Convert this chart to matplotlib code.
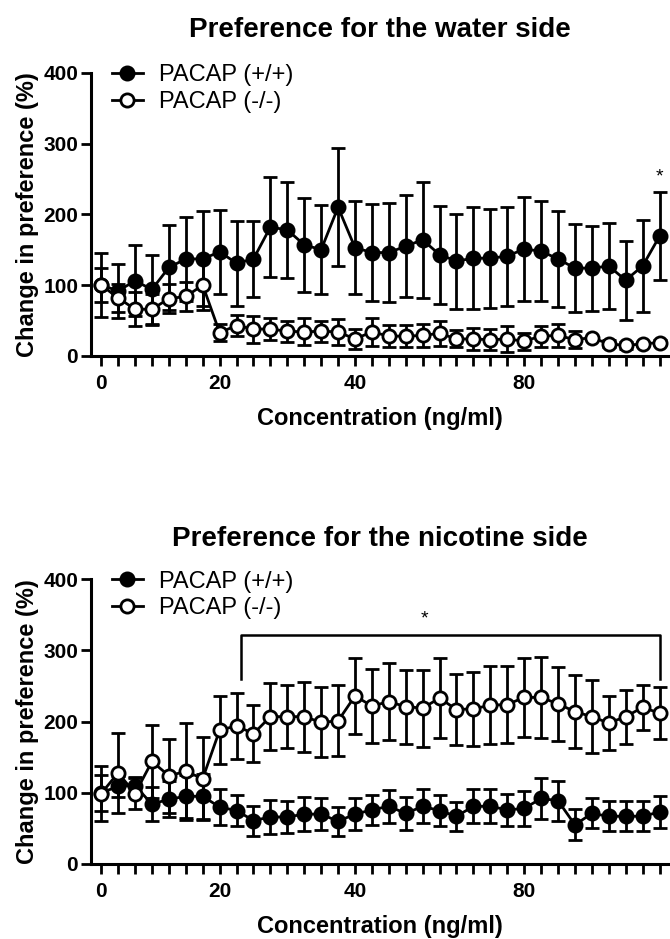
import matplotlib
matplotlib.use("Agg")
import matplotlib.pyplot as plt
from matplotlib.lines import Line2D

# sample index along the x axis (34 concentrations)
n_points = 34
x_tick_pos = [0, 7, 15, 25]
x_tick_labels = ['0', '20', '40', '80']

# water side, mean and SEM
wt_water = [100, 92, 106, 94, 125, 137, 137, 147, 131, 137, 182, 178, 157, 150, 210, 153, 146,
            146, 155, 164, 143, 134, 138, 138, 141, 151, 148, 137, 124, 124, 127, 107, 127, 169]
wt_water_err = [45, 38, 50, 49, 60, 59, 67, 59, 60, 54, 70, 68, 66, 63, 83, 66, 69,
                70, 72, 82, 69, 67, 72, 70, 70, 73, 71, 68, 62, 60, 61, 56, 65, 62]
ko_water = [100, 82, 66, 66, 81, 84, 100, 33, 43, 38, 38, 35, 34, 35, 34, 24, 34,
            28, 28, 29, 32, 24, 24, 23, 24, 21, 28, 29, 23, 26, 17, 15, 17, 19]
ko_water_err = [24, 20, 24, 22, 20, 20, 35, 12, 15, 19, 16, 15, 19, 15, 18, 14, 20,
                16, 16, 16, 18, 12, 15, 15, 18, 12, 15, 16, 12, 0, 5, 5, 3, 3]

# nicotine side, mean and SEM
wt_nic = [100, 109, 110, 84, 91, 95, 95, 80, 75, 61, 66, 66, 70, 70, 60, 70, 76,
          81, 71, 81, 75, 67, 81, 81, 76, 78, 92, 89, 55, 71, 67, 67, 67, 73]
wt_nic_err = [25, 15, 12, 24, 25, 30, 32, 25, 22, 21, 24, 23, 24, 22, 20, 22, 21,
              23, 23, 24, 22, 20, 24, 24, 23, 25, 29, 28, 22, 21, 21, 21, 21, 22]
ko_nic = [99, 128, 99, 144, 124, 130, 120, 188, 194, 183, 207, 207, 207, 199, 201, 236, 222,
          228, 221, 219, 233, 217, 218, 223, 224, 234, 234, 225, 214, 207, 198, 207, 220, 212]
ko_nic_err = [39, 56, 22, 51, 52, 68, 58, 48, 46, 40, 47, 44, 49, 49, 50, 54, 52,
              54, 52, 54, 56, 50, 52, 55, 54, 55, 57, 52, 51, 51, 38, 38, 32, 37]

# significance marks
water_star = (33, 253)
nic_bracket = (8.25, 33.05, 259.5, 322)   # x start, x end, leg bottom, top
nic_star = (19.1, 344)

plt.rcParams['font.family'] = ['Liberation Sans', 'DejaVu Sans']

x = list(range(n_points))
LW = 2.0
MS = 9.5


def draw_panel(ax, title, wt, wt_err, ko, ko_err, title_pad, xlabelpad):
    kw = dict(color='black', linewidth=LW, elinewidth=LW, capsize=4.7, capthick=LW,
              marker='o', markersize=MS, markeredgewidth=LW)
    ax.errorbar(x, wt, yerr=wt_err, markerfacecolor='black', zorder=2, **kw)
    ax.errorbar(x, ko, yerr=ko_err, markerfacecolor='white', zorder=3, **kw)

    ax.set_xlim(-0.62, 33.62)
    ax.set_ylim(0, 400)
    ax.set_yticks([0, 100, 200, 300, 400])
    ax.set_xticks(x)
    ax.set_xticklabels([x_tick_labels[x_tick_pos.index(i)] if i in x_tick_pos else '' for i in x])

    for side in ['top', 'right']:
        ax.spines[side].set_visible(False)
    for side in ['left', 'bottom']:
        ax.spines[side].set_linewidth(2.2)
    ax.tick_params(axis='both', direction='out', length=7, width=2, labelsize=15)
    ax.tick_params(axis='x', pad=6)
    ax.tick_params(axis='y', pad=2)
    for lab in ax.get_xticklabels() + ax.get_yticklabels():
        lab.set_fontweight('bold')

    ax.set_xlabel('Concentration (ng/ml)', fontsize=17, fontweight='bold', labelpad=xlabelpad)
    ax.set_ylabel('Change in preference (%)', fontsize=17, fontweight='bold', labelpad=3)
    ax.set_title(title, fontsize=20, fontweight='bold', pad=title_pad)

    handles = [
        Line2D([], [], color='black', linewidth=LW, marker='o', markersize=MS,
               markeredgewidth=LW, markerfacecolor='black'),
        Line2D([], [], color='black', linewidth=LW, marker='o', markersize=MS,
               markeredgewidth=LW, markerfacecolor='white'),
    ]
    ax.legend(handles, ['PACAP (+/+)', 'PACAP (-/-)'], loc='upper left',
              bbox_to_anchor=(0.037, 1.03), frameon=False, fontsize=17,
              handlelength=1.3, handletextpad=0.7, labelspacing=0.2, borderpad=0,
              borderaxespad=0)


fig = plt.figure(figsize=(6.7, 9.39), dpi=100)
ax1 = fig.add_axes([0.1354, 0.6209, 0.8646, 0.3017])
ax2 = fig.add_axes([0.1354, 0.0799, 0.8646, 0.3032])

draw_panel(ax1, 'Preference for the water side', wt_water, wt_water_err, ko_water, ko_water_err, 26, 10)
draw_panel(ax2, 'Preference for the nicotine side', wt_nic, wt_nic_err, ko_nic, ko_nic_err, 24, 10)

ax1.text(water_star[0], water_star[1], '*', ha='center', va='center', fontsize=14)

bx0, bx1, by0, by1 = nic_bracket
ax2.plot([bx0, bx0, bx1, bx1], [by0, by1, by1, by0], color='black', linewidth=1.8)
ax2.text(nic_star[0], nic_star[1], '*', ha='center', va='center', fontsize=14)

fig.savefig('out.png', dpi=100)
